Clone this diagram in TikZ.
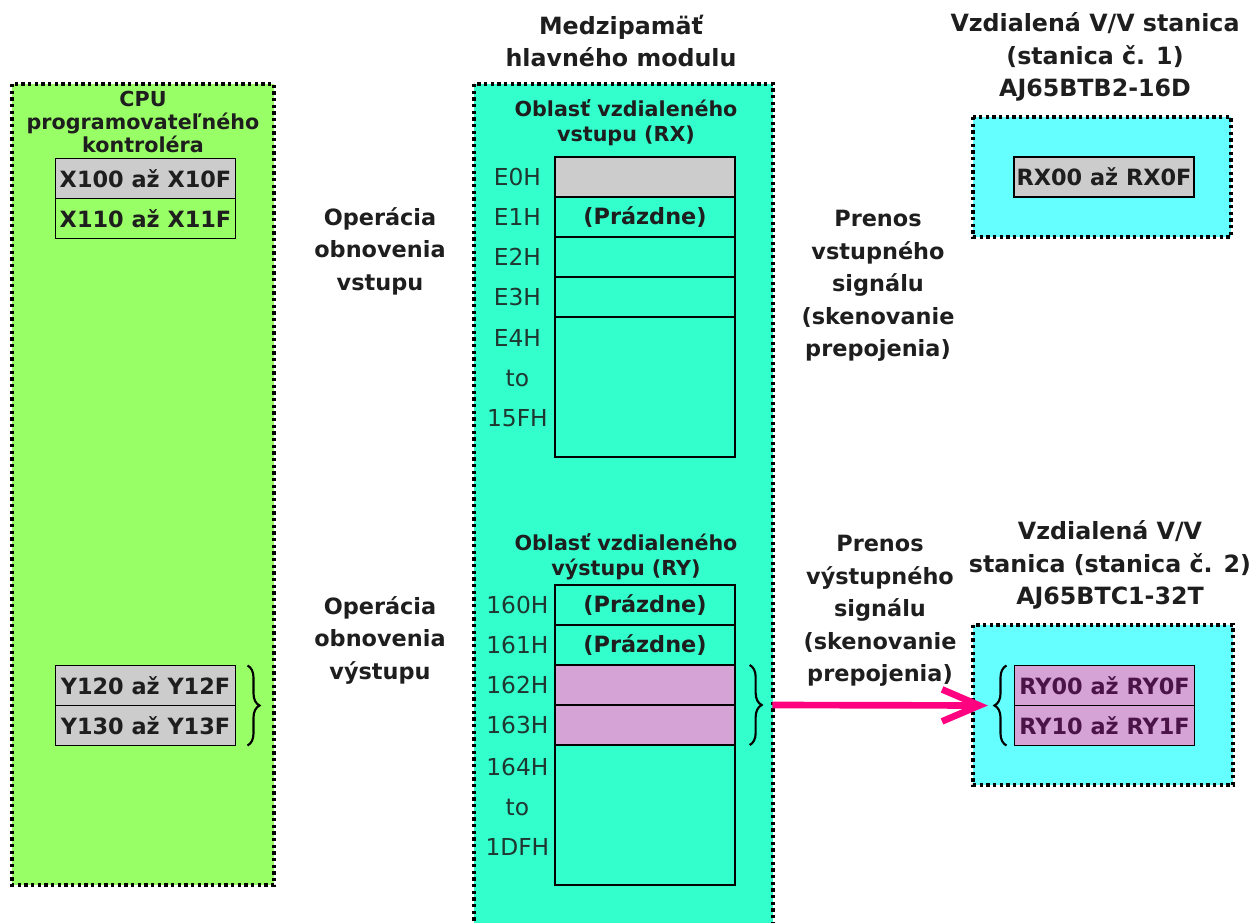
\documentclass[tikz,border=0pt]{standalone}
\usepackage{fontspec}
\setmainfont{DejaVu Sans}
\usetikzlibrary{positioning,arrows.meta,decorations.pathreplacing}
\definecolor{cpugreen}{RGB}{153,255,102}
\definecolor{bufteal}{RGB}{51,255,204}
\definecolor{stcyan}{RGB}{102,255,255}
\definecolor{cellgray}{RGB}{204,204,204}
\definecolor{cellpink}{RGB}{214,163,214}
\definecolor{sigpink}{RGB}{255,0,128}
\definecolor{inkdark}{RGB}{30,30,30}
\definecolor{addrink}{RGB}{30,55,48}
\definecolor{ryink}{RGB}{75,20,70}
\newcommand\cellfnt{\fontsize{16.8}{20}\selectfont\bfseries}
\newcommand\addrfnt{\fontsize{17.5}{30}\selectfont}
\newcommand\lblfnt{\fontsize{16.8}{24.4}\selectfont\bfseries}
\newcommand\ttlfnt{\fontsize{17.8}{24.6}\selectfont\bfseries}
\newcommand\subfnt{\fontsize{15.5}{19}\selectfont\bfseries}
\tikzset{
  area/.style={draw=black,line width=3pt,dash pattern=on 2.4pt off 2.6pt},
  cell/.style={draw,line width=1.2pt,minimum width=135pt,minimum height=30pt,inner sep=0pt,outer sep=0pt,font=\cellfnt,text=inkdark},
  addr/.style={text width=50pt,align=center,font=\addrfnt,text=addrink,inner sep=3pt},
  lbl/.style={align=center,font=\lblfnt,text=inkdark},
  ttl/.style={align=center,font=\ttlfnt,text=inkdark},
  subttl/.style={align=center,font=\subfnt,text=inkdark},
  brc/.style={decorate,decoration={brace,amplitude=9pt},line width=1.6pt},
  sig/.style={-{Straight Barb[length=28pt,width=24pt]},line width=5pt,sigpink}
}
\begin{document}
\begin{tikzpicture}[x=0.75pt,y=-0.75pt]
\useasboundingbox (0,0) rectangle (1254,922);

% areas
\draw[area,fill=cpugreen] (12,84) rectangle (274,885);
\draw[area,fill=bufteal] (474,84) rectangle (773,945);
\draw[area,fill=stcyan] (973,117) rectangle (1231,237);
\draw[area,fill=stcyan] (973,625) rectangle (1233,785);

% CPU
\node[subttl,font=\fontsize{15.5}{17.5}\selectfont\bfseries] (cpu) at (143,122) {CPU\\programovateľného\\kontroléra};
\node[cell,fill=cellgray] (x100) at (145.5,178.5) {X100 až X10F};
\node[cell,below=0pt of x100] (x110) {X110 až X11F};
\node[cell,fill=cellgray] (y120) at (145.5,685.5) {Y120 až Y12F};
\node[cell,fill=cellgray,below=0pt of y120] (y130) {Y130 až Y13F};

% buffer memory
\node[ttl] (buf) at (621,41) {Medzipamäť\\hlavného modulu};
\node[subttl] (rxhd) at (626,123) {Oblasť vzdialeného\\vstupu (RX)};
\node[cell,fill=cellgray] (e0) at (645,177) {};
\node[cell,below=0pt of e0] (e1) {(Prázdne)};
\node[cell,below=0pt of e1] (e2) {};
\node[cell,below=0pt of e2] (e3) {};
\node[cell,below=0pt of e3,minimum height=105pt] (e4) {};
\node[addr,left=0pt of e0] (ae0) {E0H};
\node[addr,left=0pt of e1] (ae1) {E1H};
\node[addr,left=0pt of e2] (ae2) {E2H};
\node[addr,left=0pt of e3] (ae3) {E3H};
\node[addr,left=0pt of e4,yshift=6.3pt] (ae4) {E4H\\to\\15FH};

\node[subttl] (ryhd) at (626,557) {Oblasť vzdialeného\\výstupu (RY)};
\node[cell] (r160) at (645,605) {(Prázdne)};
\node[cell,below=0pt of r160] (r161) {(Prázdne)};
\node[cell,fill=cellpink,below=0pt of r161] (r162) {};
\node[cell,fill=cellpink,below=0pt of r162] (r163) {};
\node[cell,below=0pt of r163,minimum height=105pt] (r164) {};
\node[addr,left=0pt of r160] (a160) {160H};
\node[addr,left=0pt of r161] (a161) {161H};
\node[addr,left=0pt of r162] (a162) {162H};
\node[addr,left=0pt of r163] (a163) {163H};
\node[addr,left=0pt of r164,yshift=6.3pt] (a164) {164H\\to\\1DFH};

% remote stations
\node[ttl] (st1) at (1095,57) {Vzdialená V/V stanica\\(stanica č. 1)\\AJ65BTB2-16D};
\node[cell,fill=cellgray] (rx00) at (1104,177) {RX00 až RX0F};
\node[ttl] (st2) at (1110,565) {Vzdialená V/V\\stanica (stanica č. 2)\\AJ65BTC1-32T};
\node[cell,fill=cellpink,text=ryink] (ry00) at (1104.5,685.5) {RY00 až RY0F};
\node[cell,fill=cellpink,text=ryink,below=0pt of ry00] (ry10) {RY10 až RY1F};

% operations
\node[lbl] (inop) at (380,251) {Operácia\\obnovenia\\vstupu};
\node[lbl] (outop) at (380,640) {Operácia\\obnovenia\\výstupu};
\node[lbl] (intx) at (878,286) {Prenos\\vstupného\\signálu\\(skenovanie\\prepojenia)};
\node[lbl] (outtx) at (880,611) {Prenos\\výstupného\\signálu\\(skenovanie\\prepojenia)};

\draw[brc] ([xshift=9pt]y120.north east) -- ([xshift=9pt]y130.south east);
\draw[brc] ([xshift=11pt]r162.north east) -- ([xshift=11pt]r163.south east);
\draw[brc] ([xshift=-6pt]ry10.south west) -- ([xshift=-6pt]ry00.north west);
\draw[sig] ([xshift=28pt]r162.south east) -- ([xshift=-20pt]ry00.south west);
\end{tikzpicture}
\end{document}
